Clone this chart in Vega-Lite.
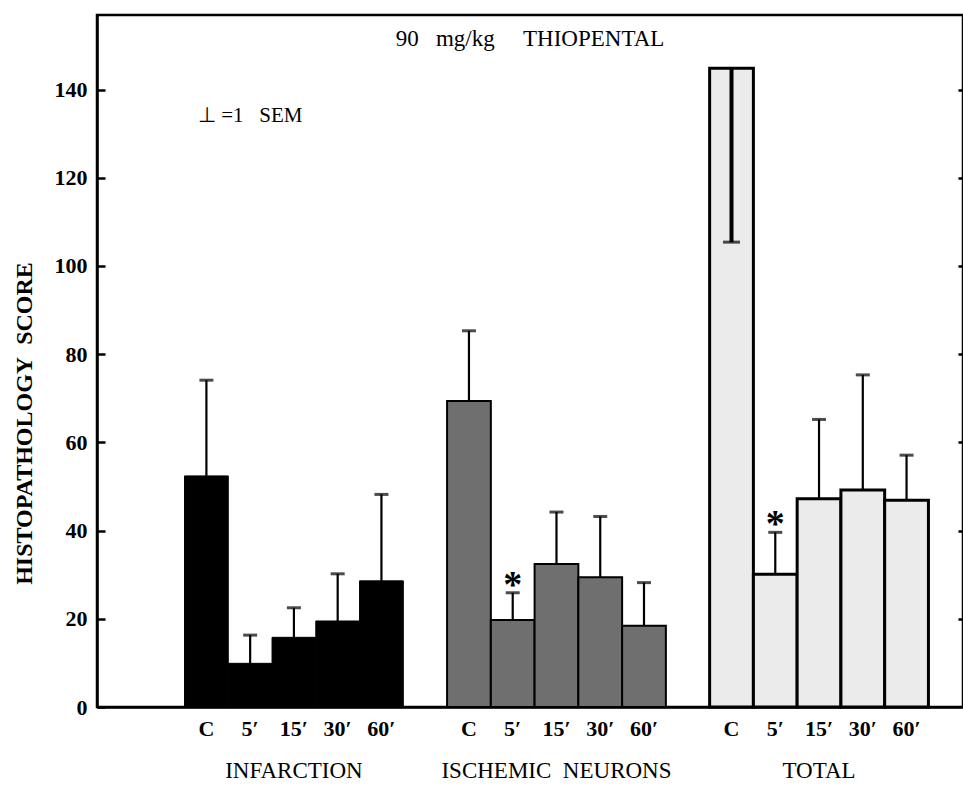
{
  "$schema": "https://vega.github.io/schema/vega-lite/v6.json",
  "width": 866,
  "height": 692,
  "autosize": {"type": "none"},
  "padding": {"left": 97, "top": 15, "right": 0, "bottom": 78},
  "background": "white",
  "view": {"stroke": "black", "strokeWidth": 2.5},
  "title": {
    "text": "90\u00a0\u00a0 mg/kg\u00a0\u00a0\u00a0\u00a0 THIOPENTAL",
    "anchor": "middle",
    "frame": "group",
    "offset": -36,
    "font": "Liberation Serif",
    "fontSize": 23,
    "fontWeight": "normal",
    "color": "black"
  },
  "data": {
    "values": [
      {"group": "Infarction", "slot": "IC", "score": 52.4, "sem_end": 74.1, "sig": ""},
      {"group": "Infarction", "slot": "I5", "score": 9.9, "sem_end": 16.3, "sig": ""},
      {"group": "Infarction", "slot": "I15", "score": 15.8, "sem_end": 22.5, "sig": ""},
      {"group": "Infarction", "slot": "I30", "score": 19.5, "sem_end": 30.2, "sig": ""},
      {"group": "Infarction", "slot": "I60", "score": 28.6, "sem_end": 48.2, "sig": ""},
      {"group": "Ischemic neurons", "slot": "NC", "score": 69.4, "sem_end": 85.3, "sig": ""},
      {"group": "Ischemic neurons", "slot": "N5", "score": 19.7, "sem_end": 25.9, "sig": "*"},
      {"group": "Ischemic neurons", "slot": "N15", "score": 32.4, "sem_end": 44.2, "sig": ""},
      {"group": "Ischemic neurons", "slot": "N30", "score": 29.4, "sem_end": 43.2, "sig": ""},
      {"group": "Ischemic neurons", "slot": "N60", "score": 18.4, "sem_end": 28.2, "sig": ""},
      {"group": "Total", "slot": "TC", "score": 144.8, "sem_end": 105.4, "sig": ""},
      {"group": "Total", "slot": "T5", "score": 30.1, "sem_end": 39.6, "sig": "*"},
      {"group": "Total", "slot": "T15", "score": 47.2, "sem_end": 65.2, "sig": ""},
      {"group": "Total", "slot": "T30", "score": 49.2, "sem_end": 75.3, "sig": ""},
      {"group": "Total", "slot": "T60", "score": 46.9, "sem_end": 57.1, "sig": ""}
    ]
  },
  "layer": [
    {
      "mark": {"type": "bar", "stroke": "black"},
      "encoding": {
        "x": {
          "field": "slot",
          "type": "nominal",
          "scale": {
            "domain": ["_0", "_1", "IC", "I5", "I15", "I30", "I60", "_2", "NC", "N5", "N15", "N30", "N60", "_3", "TC", "T5", "T15", "T30", "T60"],
            "paddingInner": 0,
            "paddingOuter": 0.395,
            "align": 0
          },
          "axis": {
            "title": null,
            "orient": "bottom",
            "domainWidth": 2.5,
            "domainColor": "black",
            "ticks": false,
            "tickSize": 0,
            "labelPadding": 11,
            "labelFont": "Liberation Serif",
            "labelFontWeight": "bold",
            "labelFontSize": 22,
            "labelColor": "black",
            "labelAngle": 0,
            "labelOverlap": false,
            "labelLimit": 0,
            "labelExpr": "substring(datum.value,0,1)=='_' ? '' : (substring(datum.value,1)=='C' ? 'C' : substring(datum.value,1) + '′')"
          }
        },
        "y": {
          "field": "score",
          "type": "quantitative",
          "scale": {"domain": [0, 156.9], "nice": false, "zero": true},
          "axis": {
            "title": "HISTOPATHOLOGY\u00a0 SCORE",
            "titleFont": "Liberation Serif",
            "titleFontSize": 24,
            "titleFontWeight": "bold",
            "titleColor": "black",
            "titleX": -73,
            "titleY": 408,
            "titleBaseline": "middle",
            "titleAlign": "center",
            "titleAngle": -90,
            "values": [0, 20, 40, 60, 80, 100, 120, 140],
            "grid": false,
            "domainWidth": 2.5,
            "domainColor": "black",
            "tickColor": "black",
            "tickWidth": 2.5,
            "tickSize": -8,
            "labelPadding": 18,
            "labelFont": "Liberation Serif",
            "labelFontWeight": "bold",
            "labelFontSize": 22,
            "labelColor": "black"
          }
        },
        "fill": {
          "field": "group",
          "type": "nominal",
          "scale": {"domain": ["Infarction", "Ischemic neurons", "Total"], "range": ["#000000", "#6f6f6f", "#ebebeb"]},
          "legend": null
        },
        "strokeWidth": {
          "condition": [
            {"test": "datum.group === 'Total'", "value": 3},
            {"test": "datum.group === 'Ischemic neurons'", "value": 2}
          ],
          "value": 1
        }
      }
    },
    {
      "mark": {"type": "rule", "color": "black"},
      "encoding": {
        "x": {
          "field": "slot",
          "type": "nominal",
          "scale": {
            "domain": ["_0", "_1", "IC", "I5", "I15", "I30", "I60", "_2", "NC", "N5", "N15", "N30", "N60", "_3", "TC", "T5", "T15", "T30", "T60"],
            "paddingInner": 0,
            "paddingOuter": 0.395,
            "align": 0
          },
          "axis": {
            "title": null,
            "orient": "bottom",
            "domain": false,
            "ticks": false,
            "tickSize": 0,
            "labelPadding": 52,
            "labelFont": "Liberation Serif",
            "labelFontSize": 23,
            "labelColor": "black",
            "labelAngle": 0,
            "labelOverlap": false,
            "labelBound": false,
            "labelLimit": 0,
            "labelExpr": "datum.value=='I15' ? 'INFARCTION' : datum.value=='N15' ? 'ISCHEMIC\u00a0 NEURONS' : datum.value=='T15' ? 'TOTAL' : ''"
          }
        },
        "y": {
          "field": "score",
          "type": "quantitative",
          "scale": {"domain": [0, 156.9], "nice": false, "zero": true},
          "axis": {
            "orient": "right",
            "title": null,
            "labels": false,
            "domain": false,
            "grid": false,
            "values": [20, 40, 60, 80, 100, 120, 140],
            "tickSize": -5,
            "tickWidth": 2.5,
            "tickColor": "black"
          }
        },
        "y2": {"field": "sem_end"},
        "strokeWidth": {"condition": {"test": "datum.sem_end < datum.score", "value": 4}, "value": 2.2}
      }
    },
    {
      "mark": {"type": "tick", "color": "black", "thickness": 3},
      "encoding": {
        "x": {
          "field": "slot",
          "type": "nominal",
          "scale": {
            "domain": ["_0", "_1", "IC", "I5", "I15", "I30", "I60", "_2", "NC", "N5", "N15", "N30", "N60", "_3", "TC", "T5", "T15", "T30", "T60"],
            "paddingInner": 0,
            "paddingOuter": 0.395,
            "align": 0
          },
          "axis": null
        },
        "y": {
          "field": "sem_end",
          "type": "quantitative",
          "scale": {"domain": [0, 156.9], "nice": false, "zero": true},
          "axis": null
        },
        "size": {"condition": {"test": "datum.sem_end < datum.score", "value": 17}, "value": 14}
      }
    },
    {
      "transform": [{"filter": "datum.sig === '*'"}],
      "mark": {"type": "text", "font": "Liberation Serif", "fontWeight": "bold", "fontSize": 38, "baseline": "middle", "dy": -7, "color": "black"},
      "encoding": {
        "x": {
          "field": "slot",
          "type": "nominal",
          "scale": {
            "domain": ["_0", "_1", "IC", "I5", "I15", "I30", "I60", "_2", "NC", "N5", "N15", "N30", "N60", "_3", "TC", "T5", "T15", "T30", "T60"],
            "paddingInner": 0,
            "paddingOuter": 0.395,
            "align": 0
          },
          "axis": null
        },
        "y": {
          "field": "sem_end",
          "type": "quantitative",
          "scale": {"domain": [0, 156.9], "nice": false, "zero": true},
          "axis": null
        },
        "text": {"field": "sig"}
      }
    },
    {
      "data": {"values": [{"note": "⊥\u00a0=1\u00a0\u00a0 SEM", "slot": "I5", "level": 134}]},
      "mark": {"type": "text", "font": "Liberation Serif", "fontSize": 21, "baseline": "middle", "color": "black"},
      "encoding": {
        "x": {
          "field": "slot",
          "type": "nominal",
          "scale": {
            "domain": ["_0", "_1", "IC", "I5", "I15", "I30", "I60", "_2", "NC", "N5", "N15", "N30", "N60", "_3", "TC", "T5", "T15", "T30", "T60"],
            "paddingInner": 0,
            "paddingOuter": 0.395,
            "align": 0
          },
          "axis": null
        },
        "y": {
          "field": "level",
          "type": "quantitative",
          "scale": {"domain": [0, 156.9], "nice": false, "zero": true},
          "axis": null
        },
        "text": {"field": "note"}
      }
    }
  ],
  "resolve": {"axis": {"x": "independent", "y": "independent"}}
}
